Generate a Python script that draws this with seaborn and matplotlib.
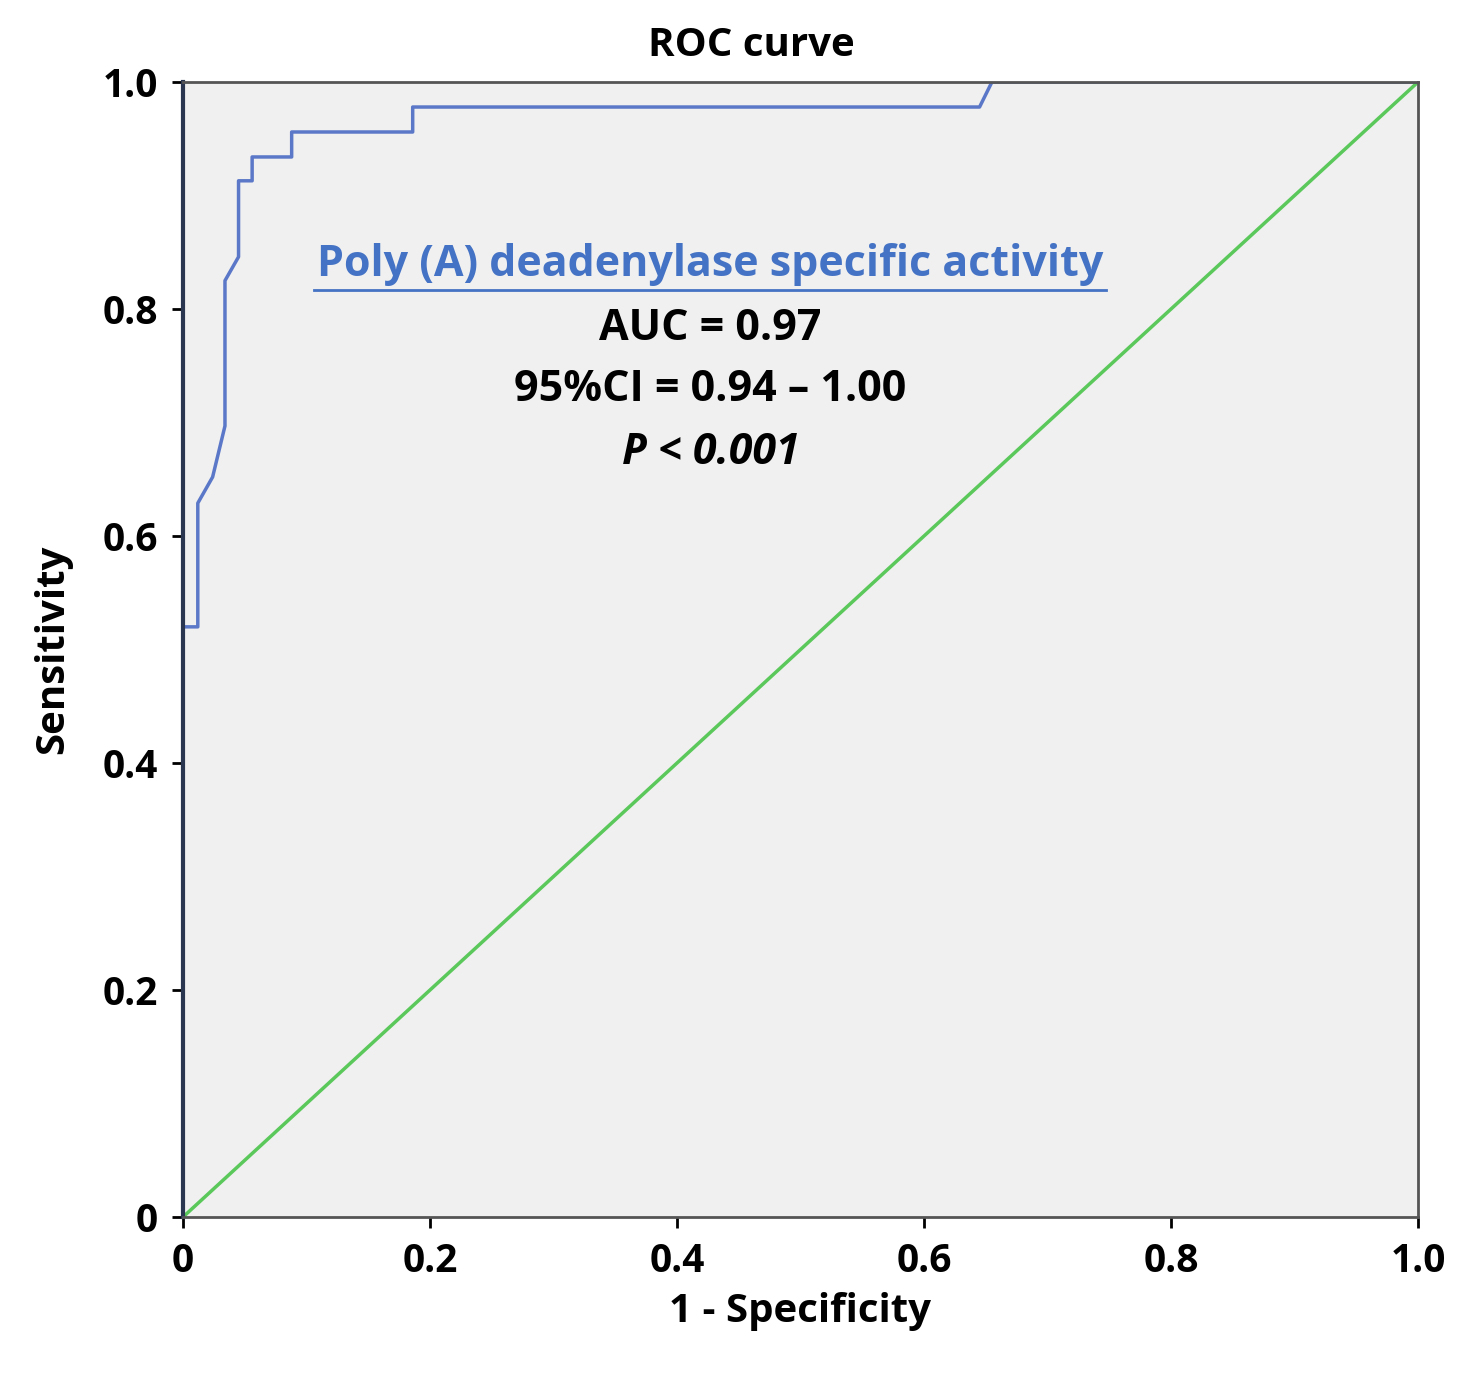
import seaborn as sns
import pandas as pd
import matplotlib.pyplot as plt

fpr = [0.0, 0.0, 0.012, 0.012, 0.024, 0.034, 0.034, 0.045, 0.045, 0.056, 0.056,
       0.088, 0.088, 0.186, 0.186, 0.645, 0.655, 1.0]
tpr = [0.0, 0.52, 0.52, 0.629, 0.652, 0.697, 0.825, 0.846, 0.913, 0.913, 0.934,
       0.934, 0.956, 0.956, 0.978, 0.978, 1.0, 1.0]
ref = [0.0, 1.0]

df = pd.DataFrame({"fpr": fpr, "tpr": tpr})

plt.rcParams["font.family"] = "Open Sans"
fig = plt.figure(figsize=(14.78, 13.86), dpi=100)
ax = fig.add_axes([0.1238, 0.1219, 0.8356, 0.8189])
ax.set_facecolor("#f0f0f0")

sns.lineplot(x=ref, y=ref, color="#5ac85a", linewidth=2.5, ax=ax)
sns.lineplot(data=df, x="fpr", y="tpr", sort=False, estimator=None,
             color="#5b78c8", linewidth=2.5, ax=ax)

ax.set_xlim(0, 1)
ax.set_ylim(0, 1)
ax.set_xticks([0, 0.2, 0.4, 0.6, 0.8, 1.0])
ax.set_xticklabels(["0", "0.2", "0.4", "0.6", "0.8", "1.0"])
ax.set_yticks([0, 0.2, 0.4, 0.6, 0.8, 1.0])
ax.set_yticklabels(["0", "0.2", "0.4", "0.6", "0.8", "1.0"])
ax.tick_params(labelsize=28, width=2, length=8, direction="out", pad=10)
for t in ax.get_xticklabels() + ax.get_yticklabels():
    t.set_fontweight("bold")
for s in ax.spines.values():
    s.set_color("#555555")
    s.set_linewidth(2)
ax.spines["left"].set_color("#2a3550")
ax.spines["left"].set_linewidth(3)

ax.set_xlabel("1 - Specificity", fontsize=29, fontweight="bold", labelpad=8)
ax.set_ylabel("Sensitivity", fontsize=29, fontweight="bold", labelpad=22)
ax.text(0.46, 1.015, "ROC curve", fontsize=29, fontweight="bold",
        ha="center", va="bottom", transform=ax.transAxes)

ax.text(0.427, 0.839, "Poly (A) deadenylase specific activity", color="#4472c4",
        fontsize=31, fontweight="bold", ha="center", va="center")
ax.plot([0.106, 0.747], [0.817, 0.817], color="#4472c4", linewidth=2)
ax.text(0.427, 0.783, "AUC = 0.97", fontsize=31, fontweight="bold", ha="center", va="center")
ax.text(0.427, 0.729, "95%CI = 0.94 \u2013 1.00", fontsize=31, fontweight="bold", ha="center", va="center")
ax.text(0.427, 0.674, "P < 0.001", fontsize=31, fontweight="bold", style="italic", ha="center", va="center")

plt.savefig("out.png")
